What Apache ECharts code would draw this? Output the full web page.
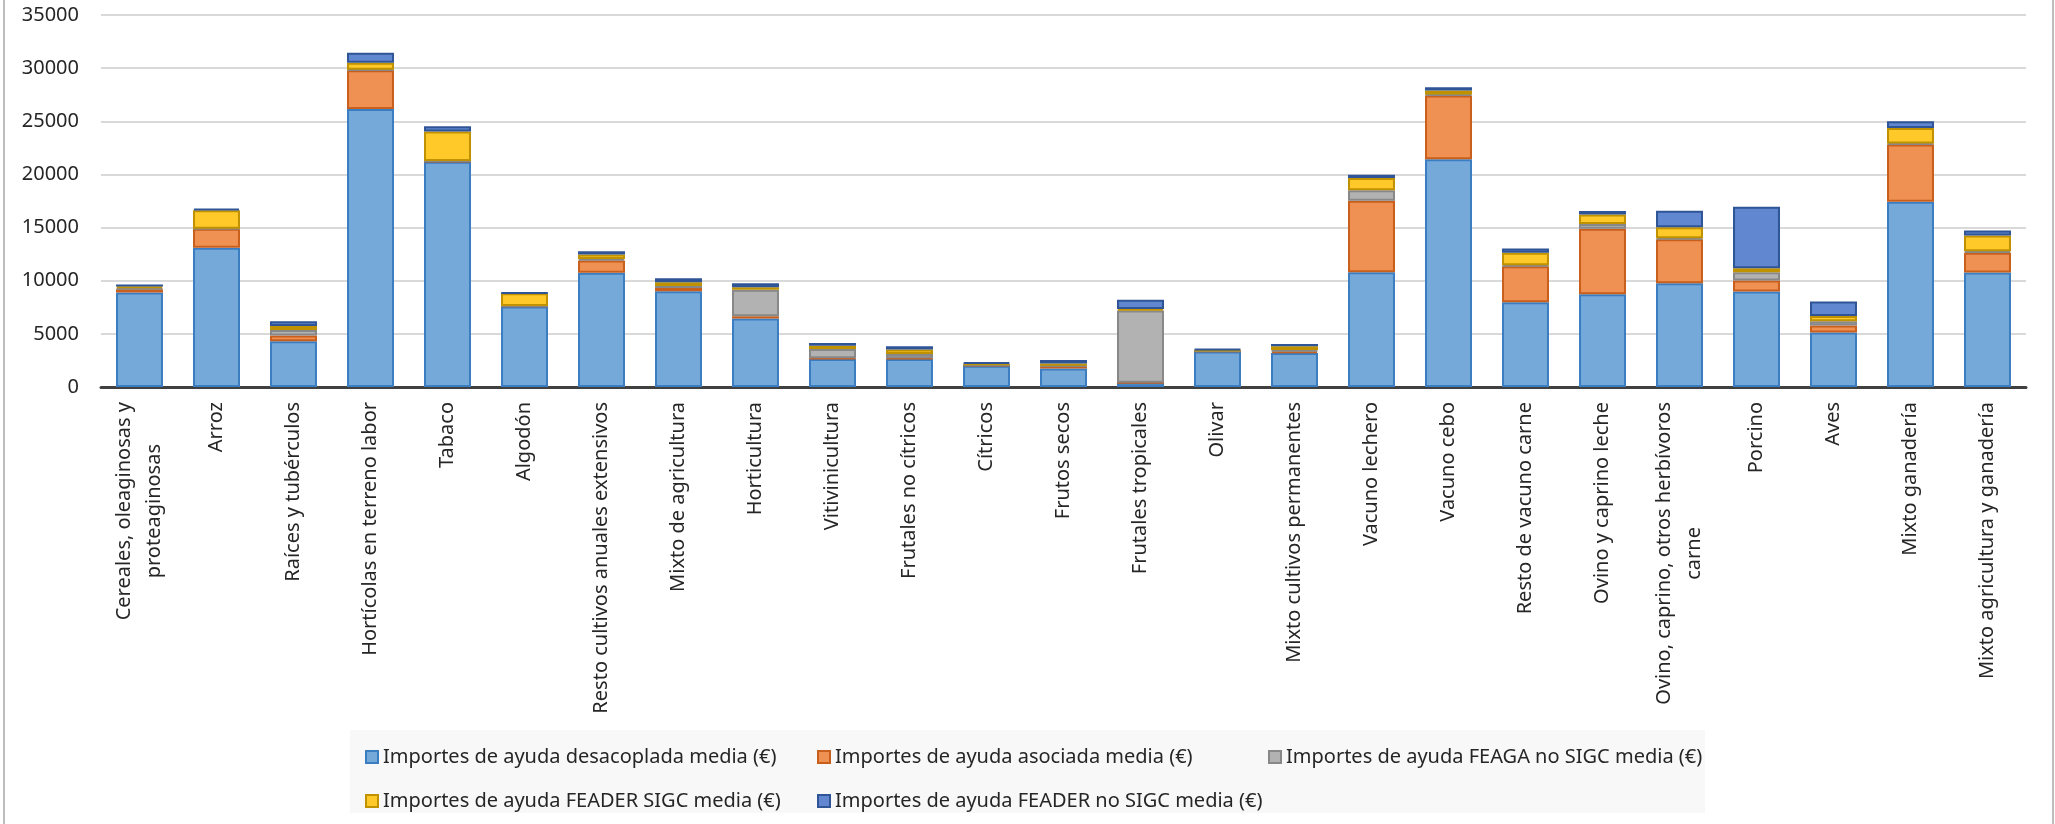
<!DOCTYPE html>
<html>
<head>
<meta charset="utf-8">
<script src="https://cdn.jsdelivr.net/npm/echarts@6/dist/echarts.min.js"></script>
<style>
  html, body { margin: 0; padding: 0; background: #fff; }
  #chart { width: 2055px; height: 824px; }
</style>
</head>
<body>
<div id="chart"></div>
<script>
// categorías (orientación técnico-económica)
const categorias = [
  'Cereales, oleaginosas y\nproteaginosas', 'Arroz', 'Raíces y tubérculos',
  'Hortícolas en terreno labor', 'Tabaco', 'Algodón',
  'Resto cultivos anuales extensivos', 'Mixto de agricultura', 'Horticultura',
  'Vitivinicultura', 'Frutales no cítricos', 'Cítricos', 'Frutos secos',
  'Frutales tropicales', 'Olivar', 'Mixto cultivos permanentes',
  'Vacuno lechero', 'Vacuno cebo', 'Resto de vacuno carne',
  'Ovino y caprino leche', 'Ovino, caprino, otros herbívoros\ncarne',
  'Porcino', 'Aves', 'Mixto ganadería', 'Mixto agricultura y ganadería'
];

const desacoplada = [8900, 13100, 4300, 26150, 21200, 7570, 10750, 9000, 6450, 2640, 2640, 2000, 1750, 400, 3350, 3200, 10800, 21420, 7980, 8730, 9770, 8980, 5120, 17440, 10770];
const asociada = [300, 1780, 540, 3650, 50, 50, 1150, 320, 200, 60, 60, 50, 190, 0, 20, 160, 6730, 6010, 3390, 6160, 4120, 1040, 660, 5370, 1860];
const feagaNoSigc = [100, 20, 530, 50, 20, 0, 150, 190, 2490, 880, 410, 30, 50, 6790, 30, 110, 970, 100, 90, 440, 110, 780, 400, 90, 150];
const feaderSigc = [150, 1720, 380, 650, 2770, 1200, 420, 350, 250, 310, 410, 120, 230, 160, 80, 360, 1170, 370, 1170, 910, 1040, 380, 510, 1480, 1480];
const feaderNoSigc = [200, 180, 430, 940, 500, 30, 310, 380, 380, 260, 310, 120, 320, 850, 110, 220, 310, 310, 410, 310, 1540, 5790, 1350, 630, 470];

const nombres = [
  'Importes de ayuda desacoplada media (€)',
  'Importes de ayuda asociada media (€)',
  'Importes de ayuda FEAGA no SIGC media (€)',
  'Importes de ayuda FEADER SIGC media (€)',
  'Importes de ayuda FEADER no SIGC media (€)'
];

const FONT = '"Noto Sans", sans-serif';
const TXT = '#262626';

const chart = echarts.init(document.getElementById('chart'));

function serie(i, datos, relleno, borde) {
  return {
    name: nombres[i],
    type: 'bar',
    stack: 'total',
    barCategoryGap: '39%',
    data: datos,
    itemStyle: { color: relleno, borderColor: borde, borderWidth: 2 },
    emphasis: { disabled: true }
  };
}

// leyendas colocadas a mano, una por elemento, como en la hoja
const posLeyenda = [[360, 742], [812, 742], [1263, 742], [360, 786], [812, 786]];

chart.setOption({
  animation: false,
  textStyle: { fontFamily: FONT, color: TXT },
  grid: { left: 101, right: 29, top: 15, bottom: 437 },
  legend: nombres.map((n, i) => ({
    data: [n],
    left: posLeyenda[i][0],
    top: posLeyenda[i][1],
    itemWidth: 12,
    itemHeight: 12,
    icon: 'rect',
    selectedMode: false,
    textStyle: { fontFamily: FONT, fontSize: 20, color: TXT }
  })),
  graphic: [
    { type: 'rect', left: 350, top: 730, z: -10, shape: { width: 1355, height: 83 }, style: { fill: '#f8f8f8' } },
    { type: 'rect', left: 3, top: 0, shape: { width: 2, height: 824 }, style: { fill: '#bdbdbd' } },
    { type: 'rect', left: 2052, top: 0, shape: { width: 2, height: 824 }, style: { fill: '#bdbdbd' } }
  ],
  xAxis: {
    type: 'category',
    data: categorias,
    axisLine: { lineStyle: { color: '#404040', width: 3 } },
    axisTick: { show: false },
    axisLabel: {
      interval: 0,
      rotate: 90,
      margin: 15,
      fontSize: 20,
      color: TXT,
      formatter: v => v.split('\n').map(l => '{c|' + l + '}').join('\n'),
      rich: { c: { align: 'center', fontSize: 20, lineHeight: 30, fontFamily: FONT, color: TXT } }
    }
  },
  yAxis: {
    type: 'value',
    min: 0,
    max: 35000,
    interval: 5000,
    axisLine: { show: false },
    axisTick: { show: false },
    axisLabel: { fontSize: 20, color: TXT, margin: 22, formatter: v => String(v) },
    splitLine: { lineStyle: { color: '#d9d9d9', width: 2 } }
  },
  series: [
    serie(0, desacoplada, '#75a9da', '#3b7dc1'),
    serie(1, asociada, '#ef9152', '#c95f1c'),
    serie(2, feagaNoSigc, '#b2b2b2', '#888888'),
    serie(3, feaderSigc, '#ffc92a', '#c09200'),
    serie(4, feaderNoSigc, '#6087cf', '#2f5597')
  ]
});
</script>
</body>
</html>
